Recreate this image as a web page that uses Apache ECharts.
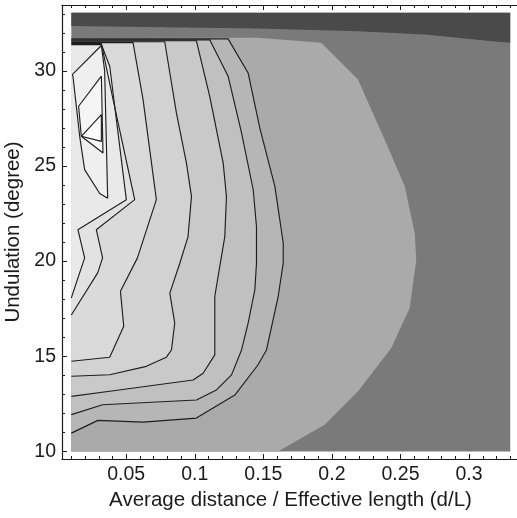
<!DOCTYPE html>
<html>
<head>
<meta charset="utf-8">
<script src="https://cdn.jsdelivr.net/npm/echarts@6/dist/echarts.min.js"></script>
<style>
  html, body { margin: 0; padding: 0; background: #ffffff; }
  #chart { width: 517px; height: 518px; }
</style>
</head>
<body>
<div id="chart"></div>
<script>
// Axis ticks
const xMajorTicks = [0.05, 0.1, 0.15, 0.2, 0.25, 0.3];
const xMinorTicks = [0.01, 0.02, 0.03, 0.04, 0.06, 0.07, 0.08, 0.09, 0.11, 0.12, 0.13, 0.14,
  0.16, 0.17, 0.18, 0.19, 0.21, 0.22, 0.23, 0.24, 0.26, 0.27, 0.28, 0.29, 0.31, 0.32, 0.33];
const yMajorTicks = [10, 15, 20, 25, 30];
const yMinorTicks = [11, 12, 13, 14, 16, 17, 18, 19, 21, 22, 23, 24, 26, 27, 28, 29, 31, 32, 33];

// Sampled domain (d/L, degree)
const domainX = [0.01, 0.33];
const domainY = [10, 33.05];

// Lowest level: the band along the top edge
const topBand = [[0.01, 33.05], [0.33, 33.05], [0.33, 31.47], [0.3168, 31.56], [0.268, 31.91],
  [0.219, 32.08], [0.146, 32.22], [0.01, 32.35]];

// Outer level boundary (unlined contour)
const outerLevel = [[0.01, 31.72], [0.146, 31.74], [0.1922, 31.47], [0.219, 29.54], [0.2385, 26.38],
  [0.2531, 23.93], [0.2604, 21.47], [0.2615, 20.07], [0.2567, 17.54], [0.2433, 15.44],
  [0.219, 13.16], [0.1947, 11.40], [0.1606, 10.0], [0.01, 10.0]];

// Contour lines, outermost first; each runs from the left edge along the top and back to the left edge
const contour7 = [[0.01, 31.68], [0.1243, 31.68], [0.1389, 29.89], [0.1474, 27.0], [0.1584, 23.93],
  [0.1645, 20.95], [0.1645, 19.89], [0.1608, 18.14], [0.1523, 15.33], [0.146, 14.54],
  [0.1292, 12.96], [0.1012, 11.75], [0.0623, 11.54], [0.0294, 11.63], [0.01, 10.96]];
const contour6 = [[0.01, 31.63], [0.1109, 31.63], [0.1243, 29.72], [0.1341, 26.74], [0.1426, 23.75],
  [0.145, 21.82], [0.145, 19.89], [0.1438, 18.49], [0.1389, 16.74], [0.1341, 15.33],
  [0.1268, 14.02], [0.1158, 13.23], [0.1012, 12.70], [0.0328, 12.45], [0.01, 11.93]];
const contour5 = [[0.01, 31.58], [0.1012, 31.58], [0.1109, 28.66], [0.1207, 25.16], [0.1231, 23.40],
  [0.1219, 21.29], [0.117, 19.19], [0.1146, 18.14], [0.1146, 15.07], [0.1061, 14.11],
  [0.0988, 13.75], [0.038, 13.16], [0.01, 12.89]];
const contour4 = [[0.01, 31.53], [0.0781, 31.53], [0.0866, 27.79], [0.0939, 25.16], [0.0976, 23.40],
  [0.0951, 21.29], [0.0891, 19.89], [0.0818, 18.32], [0.0854, 16.74], [0.083, 15.33],
  [0.0793, 14.95], [0.0647, 14.47], [0.038, 14.03], [0.01, 13.95]];
const contour3 = [[0.01, 31.48], [0.055, 31.48], [0.0623, 28.49], [0.072, 23.23], [0.0582, 20.17],
  [0.0458, 18.42], [0.0482, 16.58], [0.038, 14.95], [0.01, 14.74]];
const contour2 = [[0.01, 31.43], [0.0319, 31.43], [0.0401, 28.6], [0.0562, 23.23], [0.0282, 21.65],
  [0.0328, 20.17], [0.0292, 19.38], [0.01, 17.17]];
const contour1 = [[0.01, 31.38], [0.0319, 31.38], [0.038, 30.24], [0.0501, 23.23], [0.0148, 21.65],
  [0.0197, 20.17], [0.01, 18.07]];

// Closed loops around the local maximum
const loopC = [[0.0107, 29.8], [0.0319, 31.33], [0.0343, 30.0], [0.0365, 23.3], [0.0307, 23.55],
  [0.0197, 24.81], [0.0161, 26.56], [0.0112, 29.7], [0.0107, 29.8]];
const loopB = [[0.0153, 28.14], [0.0319, 29.72], [0.0331, 25.68], [0.0173, 26.56], [0.0153, 28.14]];
const loopA = [[0.0173, 26.56], [0.0319, 27.70], [0.0319, 26.29], [0.0173, 26.56]];

const background = [[domainX[0], domainY[0]], [domainX[1], domainY[0]],
  [domainX[1], domainY[1]], [domainX[0], domainY[1]]];

// Filled levels, painted from the lowest up
const levels = [
  { pts: background, fill: '#7a7a7a' },
  { pts: topBand, fill: '#4a4a4a' },
  { pts: outerLevel, fill: '#aaaaaa' },
  { pts: contour7, fill: '#b6b6b6' },
  { pts: contour6, fill: '#c0c0c0' },
  { pts: contour5, fill: '#c9c9c9' },
  { pts: contour4, fill: '#d2d2d2' },
  { pts: contour3, fill: '#dadada' },
  { pts: contour2, fill: '#e2e2e2' },
  { pts: contour1, fill: '#e9e9e9' },
  { pts: loopC, fill: '#efefef' },
  { pts: loopB, fill: '#f5f5f5' },
  { pts: loopA, fill: '#fcfcfc' }
];
const lines = [contour7, contour6, contour5, contour4, contour3, contour2, contour1, loopC, loopB, loopA];

const FONT = 'Liberation Sans, Arial, Helvetica, sans-serif';
const INK = '#1b1b1b';
const X_MIN = 0.0032, X_MAX = 0.3364, Y_MIN = 9.6, Y_MAX = 33.46;

function tickAxis(kind, position, values, len, withLine, extra) {
  return Object.assign({
    type: 'value',
    position: position,
    min: kind === 'x' ? X_MIN : Y_MIN,
    max: kind === 'x' ? X_MAX : Y_MAX,
    axisLine: { show: withLine, onZero: false, lineStyle: { color: INK, width: 1.2 } },
    axisTick: { show: true, inside: true, length: len, customValues: values,
      lineStyle: { color: INK, width: 1 } },
    axisLabel: { show: false },
    splitLine: { show: false }
  }, extra || {});
}

const chart = echarts.init(document.getElementById('chart'), null, { renderer: 'canvas' });

const series = [{
  type: 'custom',
  xAxisIndex: 0,
  yAxisIndex: 0,
  z: 1,
  silent: true,
  data: levels.map((_, i) => [i]),
  renderItem: function (params, api) {
    const lv = levels[api.value(0)];
    return {
      type: 'polygon',
      shape: { points: lv.pts.map(p => api.coord(p)) },
      style: { fill: lv.fill, stroke: null }
    };
  }
}];
lines.forEach(function (ln) {
  series.push({
    type: 'line',
    xAxisIndex: 0,
    yAxisIndex: 0,
    z: 3,
    silent: true,
    symbol: 'none',
    animation: false,
    data: ln,
    lineStyle: { color: '#1e1e1e', width: 1.15 }
  });
});

chart.setOption({
  animation: false,
  backgroundColor: '#ffffff',
  grid: { left: 62, top: 5, width: 457, height: 454, containLabel: false, outerBoundsMode: 'none' },
  xAxis: [
    tickAxis('x', 'bottom', xMajorTicks, 5, true, {
      axisLabel: { show: true, customValues: xMajorTicks, margin: 6, fontSize: 19.5,
        color: INK, fontFamily: FONT },
      name: 'Average distance / Effective length (d/L)',
      nameLocation: 'middle',
      nameGap: 22,
      nameTextStyle: { fontSize: 20.5, color: INK, fontFamily: FONT }
    }),
    tickAxis('x', 'bottom', xMinorTicks, 3, false),
    tickAxis('x', 'top', xMajorTicks, 5, true),
    tickAxis('x', 'top', xMinorTicks, 3, false)
  ],
  yAxis: [
    tickAxis('y', 'left', yMajorTicks, 5, true, {
      axisLabel: { show: true, customValues: yMajorTicks, margin: 6, fontSize: 19.5,
        color: INK, fontFamily: FONT },
      name: 'Undulation (degree)',
      nameLocation: 'middle',
      nameGap: 35,
      nameTextStyle: { fontSize: 20.5, color: INK, fontFamily: FONT }
    }),
    tickAxis('y', 'left', yMinorTicks, 3, false)
  ],
  series: series
});
</script>
</body>
</html>
